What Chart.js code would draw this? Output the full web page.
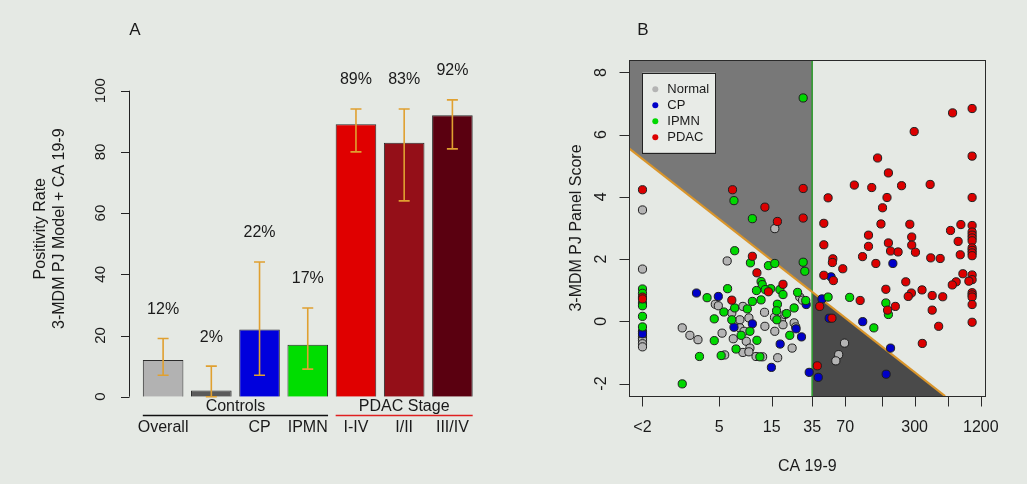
<!DOCTYPE html>
<html>
<head>
<meta charset="utf-8">
<script src="https://cdn.jsdelivr.net/npm/chart.js@4"></script>
<style>
  body { margin: 0; background: #e5e9e4; }
  #wrap { position: relative; width: 1027px; height: 484px; }
  canvas { position: absolute; top: 0; }
  #chartA { left: 0; width: 520px; height: 484px; }
  #chartB { left: 520px; width: 507px; height: 484px; }
</style>
</head>
<body>
<div id="wrap">
  <canvas id="chartA" width="520" height="484"></canvas>
  <canvas id="chartB" width="507" height="484"></canvas>
</div>
<script>
// ---- panel A data
const barLabels = ['Overall', '', 'CP', 'IPMN', 'I-IV', 'I/II', 'III/IV'];
const positivity = [12, 2, 22, 17, 89, 83, 92];
const ciLower = [7, 0, 7, 9, 80, 64, 81];
const ciUpper = [19, 10, 44, 29, 94, 94, 97];
const yTicksA = [0, 20, 40, 60, 80, 100];
const groupNames = ['Controls', 'PDAC Stage'];
const groupFirst = [0, 4];
const groupLast = [3, 6];

// ---- panel B data: [CA 19-9, 3-MDM PJ panel score]
const normalPts = [
  [1, 3.58], [1, 1.68], [1, -0.48], [1, -0.55], [1, -0.61], [1, -0.72], [1, -0.82],
  [5.9, 1.94], [16, 2.98], [2.3, -0.21], [2.7, -0.45], [3.2, -0.59], [4.6, 0.55], [4.9, 0.5],
  [5.3, -0.38], [5.6, -1.08], [6.5, 0.27], [6.7, -0.56], [7.7, 0.05], [8.2, 0.48], [7.7, -0.21],
  [8.4, -0.32], [8.8, -0.64], [9.3, 0.11], [9.5, -0.86], [8.2, -1.0], [9.3, -0.98], [10.8, -1.13],
  [12.4, -1.14], [12.9, 0.29], [13, -0.16], [15.9, 0.13], [16, -0.32], [18.4, 0.05], [19, -0.11],
  [19.8, 0.22], [17, -1.17], [23, -0.86], [24, -0.05], [24.8, -0.18], [27, 0.78], [28.6, 0.68],
  [69, -0.7], [61, -1.07], [57.5, -1.27]
];
const cpPts = [
  [1, -0.32], [1, -0.4], [3.1, 0.91], [4.9, 0.8], [6.8, -0.19], [10, -0.08], [17.9, -0.73],
  [14.9, -1.48], [25, -0.24], [28, -0.5], [30.9, 0.54], [32.9, -1.64], [39.8, -1.8], [43, 0.72],
  [50, 0.1], [52, 1.43], [101, -0.01], [190, 1.86], [181, -0.86], [165, -1.7]
];
const ipmnPts = [
  [1, 1.04], [1, 0.9], [1, 0.59], [1, 0.5], [1, 0.16], [1, -0.18],
  [29, 7.18], [6.8, 3.88], [10, 3.3], [6.9, 2.27], [9.6, 1.88], [14, 1.79], [16, 1.86], [29, 1.9],
  [30, 1.61], [12, 1.28], [12.3, 1.18], [10.9, 0.99], [5.95, 1.05], [3.87, 0.76], [5.5, 0.3],
  [4.5, 0.08], [4.5, -0.62], [3.3, -1.13], [5.2, -1.1], [2.3, -2.01], [6.9, 0.43], [9, 0.4],
  [10, 0.64], [12, 0.69], [14.7, 1.05], [17.8, 1.02], [19, 0.86], [25.8, 0.93], [30.6, 0.67],
  [16.9, 0.55], [16.6, 0.34], [20.5, 0.25], [24, 0.43], [16.7, 0.05], [6.5, 0.05], [7.9, -0.45],
  [9.5, -0.32], [7.1, -0.89], [11, -0.61], [21.9, -0.45], [11.7, -1.14], [13.1, 1.02],
  [48.9, 0.78], [76.8, 0.77], [164, 0.59], [173, 0.22], [127.5, -0.21]
];
const pdacPts = [
  [1, 4.23], [1, 0.78], [1, 0.72],
  [6.6, 4.23], [13, 3.67], [16.9, 3.21], [29, 4.27], [29, 3.32], [10, 2.09], [11, 1.56],
  [19, 1.19], [14, 0.95], [6.5, 0.68],
  [39, -1.43], [41, 0.48], [53, 0.1], [44.7, 1.48], [54.6, 1.31], [66.5, 1.69], [54, 2.01],
  [53.5, 1.89], [44.7, 2.46], [44.7, 3.15], [48.9, 3.97], [84.7, 4.38], [122, 4.3], [138, 5.25],
  [173, 4.77], [168, 3.98], [153, 3.65], [148, 3.13], [228, 4.36], [297, 6.1], [415, 4.4],
  [664, 6.7], [1000, 6.84], [1000, 5.31], [1000, 3.98], [271, 3.12], [790, 3.11], [636, 2.92],
  [1000, 3.08], [1000, 2.87], [1000, 2.77], [1000, 2.68], [1000, 2.59], [1000, 2.36],
  [1000, 2.28], [1000, 2.2], [1000, 2.11],
  [746, 2.57], [780, 2.14], [114, 2.77], [114, 2.41], [100.6, 2.08], [133, 1.86], [282, 2.71],
  [282, 2.45], [305, 2.22], [173, 2.52], [181, 2.26], [212, 2.23], [420, 2.04], [512, 2.02],
  [824, 1.53], [1000, 1.49], [1000, 1.34], [934, 1.29], [716, 1.27], [660, 1.17], [249, 1.27],
  [164, 1.03], [350, 1.01], [280, 0.91], [262, 0.8], [433, 0.83], [540, 0.79],
  [1000, 0.92], [1000, 0.85], [1000, 0.78], [1000, 0.54], [95.7, 0.67], [200, 0.48],
  [170, 0.36], [433, 0.36], [1000, -0.03], [496, -0.16], [352, -0.71]
];
const groupLabels = ['Normal', 'CP', 'IPMN', 'PDAC'];
const xTickValues = [1, 5, 15, 35, 70, 150, 300, 600, 1200];
const xTickLabels = ['<2', '5', '15', '35', '70', '', '300', '', '1200'];
const yTicksB = [-2, 0, 2, 4, 6, 8];

// axis limits and decision boundary (score = a + b * log2(CA))
const xMin = 0.7585, xMax = 1318;
const yMin = -2.4, yMax = 8.4;
const cutoffCA = 35;
const boundaryA = 5.22, boundaryB = -0.833;

const FONT = '"Liberation Sans", Arial, Helvetica, sans-serif';
const TEXT = '#1a1a1a';
Chart.defaults.font.family = FONT;

const barColors = ['#b2b2b2', '#5a5a5a', '#0000dd', '#00dd00', '#e00000', '#940f18', '#5a0010'];
const ptColors = ['#b4b4b4', '#0000c8', '#00d800', '#dc0000'];

function vText(ctx, text, x, y) {
  ctx.save();
  ctx.translate(x, y);
  ctx.rotate(-Math.PI / 2);
  ctx.fillText(text, 0, 0);
  ctx.restore();
}

// ---- Panel A: error bars, labels and R-style axis
const panelA = {
  id: 'panelA',
  afterDatasetsDraw(chart) {
    const { ctx, chartArea, scales: { y } } = chart;
    const bars = chart.getDatasetMeta(0).data;
    ctx.save();
    ctx.textAlign = 'center';
    ctx.textBaseline = 'middle';

    // error bars
    ctx.strokeStyle = '#e0a030';
    ctx.lineWidth = 1.6;
    bars.forEach((bar, i) => {
      const top = y.getPixelForValue(ciUpper[i]);
      const bot = y.getPixelForValue(ciLower[i]);
      ctx.beginPath();
      ctx.moveTo(bar.x, top); ctx.lineTo(bar.x, bot);
      ctx.moveTo(bar.x - 5.5, top); ctx.lineTo(bar.x + 5.5, top);
      ctx.moveTo(bar.x - 5.5, bot); ctx.lineTo(bar.x + 5.5, bot);
      ctx.stroke();
    });

    // percent and category labels
    ctx.fillStyle = TEXT;
    ctx.font = '16px ' + FONT;
    bars.forEach((bar, i) => {
      ctx.fillText(positivity[i] + '%', bar.x, y.getPixelForValue(ciUpper[i]) - 29);
      ctx.fillText(barLabels[i], bar.x, 428);
    });

    // group labels with underline
    groupNames.forEach((name, g) => {
      const a = bars[groupFirst[g]], b = bars[groupLast[g]];
      const left = a.x - a.width / 2, right = b.x + b.width / 2;
      ctx.strokeStyle = g === 0 ? '#111' : '#e02020';
      ctx.lineWidth = 1.6;
      ctx.beginPath();
      ctx.moveTo(left, 415.5); ctx.lineTo(right, 415.5);
      ctx.stroke();
      ctx.fillStyle = TEXT;
      ctx.fillText(name, (left + right) / 2, 407);
    });

    // y axis
    const ax = Math.round(chartArea.left - 10) + 0.5;
    ctx.strokeStyle = '#222';
    ctx.lineWidth = 1;
    ctx.beginPath();
    ctx.moveTo(ax, y.getPixelForValue(0));
    ctx.lineTo(ax, y.getPixelForValue(100));
    yTicksA.forEach(v => {
      const py = Math.round(y.getPixelForValue(v)) + 0.5;
      ctx.moveTo(ax, py); ctx.lineTo(ax - 8.5, py);
    });
    ctx.stroke();
    ctx.font = '15px ' + FONT;
    yTicksA.forEach(v => vText(ctx, String(v), 101, y.getPixelForValue(v)));

    // axis title (two lines)
    ctx.font = '16px ' + FONT;
    const midY = (chartArea.top + chartArea.bottom) / 2 - 15;
    vText(ctx, 'Positivity Rate', 41, midY);
    vText(ctx, '3-MDM PJ Model + CA 19-9', 60, midY);

    // panel letter
    ctx.font = '17px ' + FONT;
    ctx.fillText('A', 135, 30);
    ctx.restore();
  }
};

new Chart(document.getElementById('chartA'), {
  type: 'bar',
  data: {
    labels: barLabels,
    datasets: [{
      data: positivity,
      backgroundColor: barColors,
      borderColor: '#2b2b2b',
      borderWidth: 1,
      barPercentage: 0.842,
      categoryPercentage: 1
    }]
  },
  options: {
    responsive: false,
    animation: false,
    layout: { padding: { left: 139, right: 43.5, top: 90.7, bottom: 87.3 } },
    plugins: { legend: { display: false }, tooltip: { enabled: false } },
    scales: {
      x: { display: false },
      y: { display: false, min: 0, max: 100 }
    }
  },
  plugins: [panelA]
});

// ---- Panel B: frame, axes, legend
const panelB = {
  id: 'panelB',
  afterDraw(chart) {
    const { ctx, chartArea: ca, scales: { x, y } } = chart;
    ctx.save();
    ctx.strokeStyle = '#2a2a2a';
    ctx.lineWidth = 1;
    ctx.strokeRect(Math.round(ca.left) + 0.5, Math.round(ca.top) + 0.5,
      Math.round(ca.right - ca.left), Math.round(ca.bottom - ca.top));

    // x ticks
    const by = Math.round(ca.bottom) + 0.5;
    ctx.beginPath();
    ctx.moveTo(x.getPixelForValue(xTickValues[0]), by);
    ctx.lineTo(x.getPixelForValue(xTickValues[xTickValues.length - 1]), by);
    xTickValues.forEach(v => {
      const px = Math.round(x.getPixelForValue(v)) + 0.5;
      ctx.moveTo(px, by); ctx.lineTo(px, by + 10);
    });
    // y ticks
    const lx = Math.round(ca.left) + 0.5;
    yTicksB.forEach(v => {
      const py = Math.round(y.getPixelForValue(v)) + 0.5;
      ctx.moveTo(lx, py); ctx.lineTo(lx - 10, py);
    });
    ctx.stroke();

    ctx.fillStyle = TEXT;
    ctx.textAlign = 'center';
    ctx.textBaseline = 'middle';
    ctx.font = '16px ' + FONT;
    xTickValues.forEach((v, i) => ctx.fillText(xTickLabels[i], x.getPixelForValue(v), 428));
    yTicksB.forEach(v => vText(ctx, String(v), ca.left - 28, y.getPixelForValue(v)));

    ctx.fillText('CA 19-9', (ca.left + ca.right) / 2, 467);
    vText(ctx, '3-MDM PJ Panel Score', 57, (ca.top + ca.bottom) / 2);
    ctx.font = '17px ' + FONT;
    ctx.fillText('B', 123, 30);

    // legend
    const lgX = ca.left + 13, lgY = ca.top + 12.7;
    ctx.fillStyle = '#e8ebe7';
    ctx.fillRect(lgX, lgY, 73, 80);
    ctx.strokeStyle = '#222';
    ctx.strokeRect(Math.round(lgX) + 0.5, Math.round(lgY) + 0.5, 73, 80);
    ctx.font = '13px ' + FONT;
    ctx.textAlign = 'left';
    groupLabels.forEach((name, i) => {
      const ry = lgY + 16.5 + i * 16;
      ctx.fillStyle = ptColors[i];
      ctx.beginPath();
      ctx.arc(lgX + 13, ry, 3, 0, Math.PI * 2);
      ctx.fill();
      ctx.fillStyle = TEXT;
      ctx.fillText(name, lgX + 25, ry + 0.5);
    });
    ctx.restore();
  }
};

const boundary = ca => boundaryA + boundaryB * Math.log2(ca);
const xEnd = Math.pow(2, (yMin - boundaryA) / boundaryB);
const toXY = pts => pts.map(p => ({ x: p[0], y: p[1] }));

function pointSet(pts, i, order) {
  return {
    label: groupLabels[i],
    data: toXY(pts),
    backgroundColor: ptColors[i],
    borderColor: '#1e1e1e',
    borderWidth: 1,
    pointRadius: 4.1,
    order: order
  };
}

new Chart(document.getElementById('chartB'), {
  type: 'scatter',
  data: {
    datasets: [
      pointSet(pdacPts, 3, 1),
      pointSet(ipmnPts, 2, 2),
      pointSet(cpPts, 1, 3),
      pointSet(normalPts, 0, 4),
      {
        type: 'line',
        data: [{ x: xMin, y: boundary(xMin) }, { x: xEnd, y: yMin }],
        borderColor: '#d9952b', borderWidth: 2.2, pointRadius: 0, fill: false, order: 5
      },
      {
        type: 'line',
        data: [{ x: cutoffCA, y: yMin }, { x: cutoffCA, y: yMax }],
        borderColor: '#2f9a2f', borderWidth: 1.6, pointRadius: 0, fill: false, order: 6
      },
      {
        type: 'line',
        data: [{ x: xMin, y: boundary(xMin) }, { x: cutoffCA, y: boundary(cutoffCA) }],
        borderWidth: 0, pointRadius: 0, fill: 'end', backgroundColor: '#787878', order: 7
      },
      {
        type: 'line',
        data: [{ x: cutoffCA, y: boundary(cutoffCA) }, { x: xEnd, y: yMin }],
        borderWidth: 0, pointRadius: 0, fill: 'start', backgroundColor: '#4a4a4a', order: 8
      }
    ]
  },
  options: {
    responsive: false,
    animation: false,
    layout: { padding: { left: 109.3, right: 41.7, top: 60, bottom: 88 } },
    plugins: { legend: { display: false }, tooltip: { enabled: false } },
    scales: {
      x: { type: 'logarithmic', display: false, min: xMin, max: xMax },
      y: { type: 'linear', display: false, min: yMin, max: yMax }
    }
  },
  plugins: [panelB]
});
</script>
</body>
</html>
